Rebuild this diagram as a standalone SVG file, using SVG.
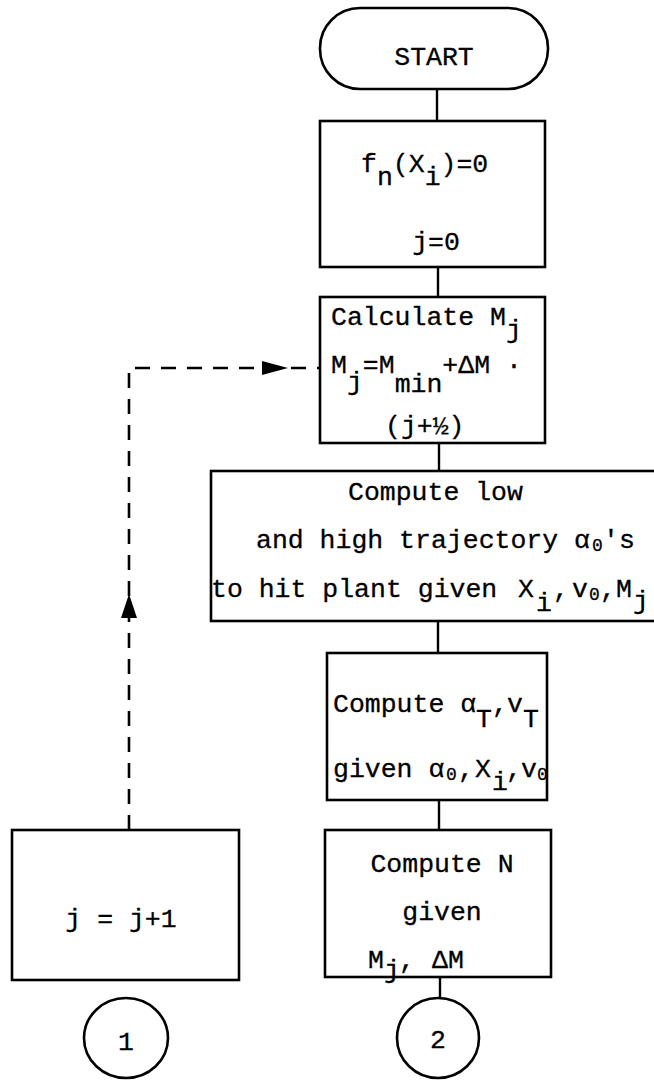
<svg xmlns="http://www.w3.org/2000/svg" width="654" height="1080" viewBox="0 0 654 1080">
<style>
.box{fill:#fff;stroke:#000;stroke-width:2.6}
.ln{stroke:#000;stroke-width:2.4;fill:none}
.dash{stroke:#000;stroke-width:2.6;fill:none;stroke-dasharray:15 11}
text{font-family:"Liberation Mono","Courier New",monospace;font-size:26.5px;fill:#000;stroke:#000;stroke-width:0.3}
.sm{font-size:18px}
.c{text-anchor:middle}
</style>
<rect width="654" height="1080" fill="#fff"/>
<g id="connectors">
<line class="ln" x1="437" y1="89" x2="437" y2="121"/>
<line class="ln" x1="438" y1="267" x2="438" y2="297"/>
<line class="ln" x1="439" y1="443" x2="439" y2="471"/>
<line class="ln" x1="438" y1="621" x2="438" y2="653"/>
<line class="ln" x1="439" y1="800" x2="439" y2="830"/>
<line class="ln" x1="440" y1="977" x2="440" y2="997"/>
<path class="dash" d="M129 830 V368 H320"/>
<polygon points="262,361 288,368 262,375" fill="#000"/>
<polygon points="121,618 129,594 137,618" fill="#000"/>
</g>
<g id="start">
<rect class="box" x="320" y="8" width="228" height="81" rx="40" ry="40"/>
<text class="c" x="434" y="65">START</text>
</g>
<g id="init">
<rect class="box" x="320" y="121" width="225" height="146"/>
<text x="361" y="172">f<tspan dy="13">n</tspan><tspan dy="-13">(X</tspan><tspan dy="13">i</tspan><tspan dy="-13">)=0</tspan></text>
<text class="c" x="436" y="250">j=0</text>
</g>
<g id="calc">
<rect class="box" x="320" y="297" width="225" height="146"/>
<text x="331" y="325">Calculate M<tspan dy="13">j</tspan></text>
<text x="331" y="373">M<tspan dy="17">j</tspan><tspan dy="-17">=M</tspan><tspan dy="19">min</tspan><tspan dy="-19">+ΔM ·</tspan></text>
<text x="385" y="434">(j+½)</text>
</g>
<g id="traj">
<rect class="box" x="211" y="471" width="470" height="150"/>
<text x="348" y="500">Compute low</text>
<text x="256" y="548">and high trajectory α</text>
<text class="sm" x="592" y="551">0</text>
<text x="603" y="548">'s</text>
<text x="211" y="597">to hit plant given</text>
<text x="518" y="597">X</text>
<text x="536" y="611">i</text>
<text x="553" y="597">,</text>
<text x="572" y="597">v</text>
<text class="sm" x="589" y="600">0</text>
<text x="600" y="597">,</text>
<text x="616" y="597">M</text>
<text x="633" y="609">j</text>
</g>
<g id="term">
<rect class="box" x="327" y="653" width="220" height="147"/>
<text x="333" y="712">Compute α</text>
<text x="476" y="727">T</text>
<text x="492" y="712">,</text>
<text x="507" y="712">v</text>
<text x="523" y="727">T</text>
<text x="333" y="777">given α</text>
<text class="sm" x="446" y="780">0</text>
<text x="458" y="777">,</text>
<text x="475" y="777">X</text>
<text x="492" y="790">i</text>
<text x="506" y="777">,</text>
<text x="521" y="777">v</text>
<text class="sm" x="537" y="780">0</text>
</g>
<g id="computeN">
<rect class="box" x="325" y="830" width="226" height="147"/>
<text class="c" x="442" y="872">Compute N</text>
<text class="c" x="442" y="920">given</text>
<text x="368" y="968">M</text>
<text x="384" y="978">j</text>
<text x="399" y="968">,</text>
<text x="432" y="968">ΔM</text>
</g>
<g id="incr">
<rect class="box" x="12" y="830" width="227" height="150"/>
<text class="c" x="121" y="927">j = j+1</text>
</g>
<g id="conn1">
<ellipse class="box" cx="126" cy="1038" rx="42" ry="40"/>
<text class="c" x="126" y="1050">1</text>
</g>
<g id="conn2">
<ellipse class="box" cx="438" cy="1038" rx="41" ry="40"/>
<text class="c" x="438" y="1048">2</text>
</g>
</svg>
